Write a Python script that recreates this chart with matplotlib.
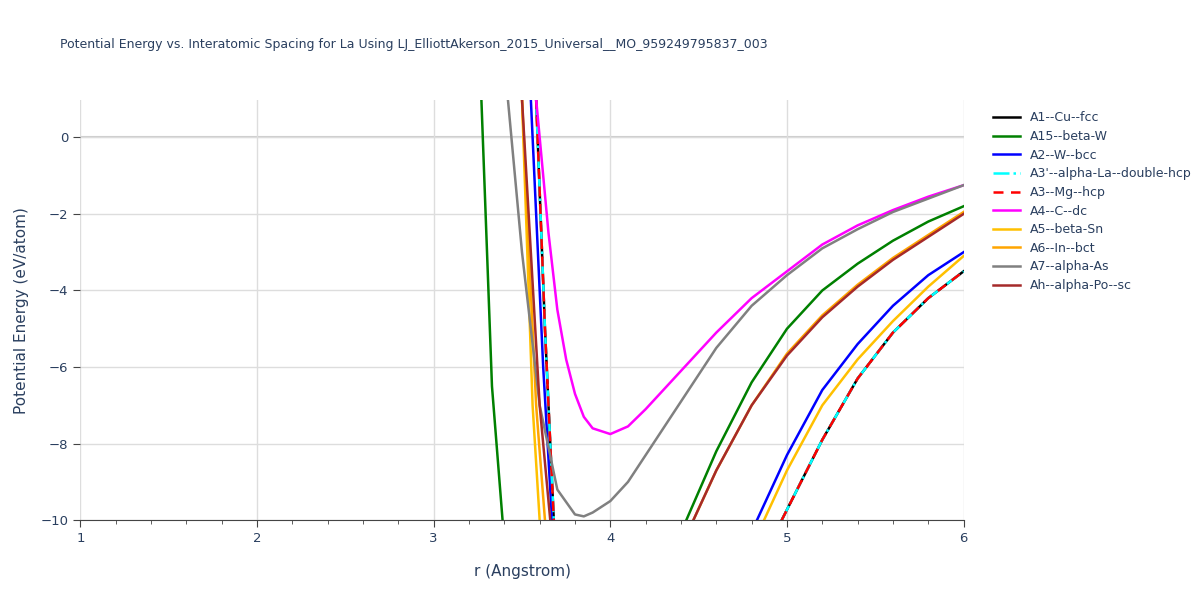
import numpy as np
import matplotlib.pyplot as plt

# left branch and right branch (r, E)
r_fcc = [3.58, 3.63, 3.68, np.nan, 4.97, 5.2, 5.4, 5.6, 5.8, 6.0]
e_fcc = [1.0, -5.0, -10.0, np.nan, -10.0, -7.9, -6.3, -5.1, -4.2, -3.5]

r_a15 = [3.27, 3.33, 3.39, np.nan, 4.43, 4.6, 4.8, 5.0, 5.2, 5.4, 5.6, 5.8, 6.0]
e_a15 = [1.0, -6.5, -10.0, np.nan, -10.0, -8.2, -6.4, -5.0, -4.0, -3.3, -2.7, -2.2, -1.8]

r_bcc = [3.55, 3.62, 3.67, np.nan, 4.83, 5.0, 5.2, 5.4, 5.6, 5.8, 6.0]
e_bcc = [1.0, -6.0, -10.0, np.nan, -10.0, -8.3, -6.6, -5.4, -4.4, -3.6, -3.0]

r_dc = [3.58, 3.65, 3.7, 3.75, 3.8, 3.85, 3.9, 4.0, 4.1, 4.2, 4.4, 4.6, 4.8, 5.0, 5.2, 5.4, 5.6, 5.8, 6.0]
e_dc = [1.0, -2.5, -4.5, -5.8, -6.7, -7.3, -7.6, -7.75, -7.55, -7.1, -6.1, -5.1, -4.2, -3.5, -2.8, -2.3, -1.9, -1.55, -1.25]

r_sn = [3.5, 3.56, 3.6, np.nan, 4.87, 5.0, 5.2, 5.4, 5.6, 5.8, 6.0]
e_sn = [1.0, -7.0, -10.0, np.nan, -10.0, -8.7, -7.0, -5.8, -4.8, -3.9, -3.1]

r_bct = [3.5, 3.58, 3.63, np.nan, 4.47, 4.6, 4.8, 5.0, 5.2, 5.4, 5.6, 5.8, 6.0]
e_bct = [1.0, -7.0, -10.0, np.nan, -10.0, -8.7, -7.0, -5.65, -4.65, -3.85, -3.15, -2.55, -1.95]

r_as = [3.42, 3.5, 3.6, 3.7, 3.8, 3.85, 3.9, 4.0, 4.1, 4.2, 4.4, 4.6, 4.8, 5.0, 5.2, 5.4, 5.6, 5.8, 6.0]
e_as = [1.0, -3.0, -7.0, -9.2, -9.85, -9.9, -9.8, -9.5, -9.0, -8.3, -6.9, -5.5, -4.4, -3.6, -2.9, -2.4, -1.95, -1.6, -1.25]

r_sc = [3.5, 3.6, 3.66, np.nan, 4.47, 4.6, 4.8, 5.0, 5.2, 5.4, 5.6, 5.8, 6.0]
e_sc = [1.0, -7.0, -10.0, np.nan, -10.0, -8.7, -7.0, -5.7, -4.7, -3.9, -3.2, -2.6, -2.0]

series = [
    ("A1--Cu--fcc", r_fcc, e_fcc, "black", "-"),
    ("A15--beta-W", r_a15, e_a15, "green", "-"),
    ("A2--W--bcc", r_bcc, e_bcc, "blue", "-"),
    ("A3'--alpha-La--double-hcp", r_fcc, e_fcc, "cyan", "-."),
    ("A3--Mg--hcp", r_fcc, e_fcc, "red", (0, (4, 3))),
    ("A4--C--dc", r_dc, e_dc, "magenta", "-"),
    ("A5--beta-Sn", r_sn, e_sn, "#FFC000", "-"),
    ("A6--In--bct", r_bct, e_bct, "orange", "-"),
    ("A7--alpha-As", r_as, e_as, "grey", "-"),
    ("Ah--alpha-Po--sc", r_sc, e_sc, "brown", "-"),
]

fig = plt.figure(figsize=(12, 6), dpi=100)
ax = fig.add_axes([0.067, 0.133, 0.736, 0.7])
for name, r, e, c, ls in series:
    ax.plot(r, e, color=c, linestyle=ls, linewidth=1.8, label=name)

ax.set_xlim(1, 6)
ax.set_ylim(-10, 0.97)
ax.set_xticks([1, 2, 3, 4, 5, 6])
ax.set_yticks([0, -2, -4, -6, -8, -10])
ax.xaxis.set_minor_locator(plt.MultipleLocator(0.2))
ax.tick_params(which="minor", length=3, color="#444", direction="out")
ax.tick_params(which="major", length=5, color="#444", labelcolor="#2a3f5f", labelsize=9.5)
ax.grid(True, color="#dddddd", linewidth=1)
ax.axhline(0, color="#cccccc", linewidth=1.5, zorder=0)
for s in ["top", "right", "left"]:
    ax.spines[s].set_visible(False)
ax.spines["bottom"].set_color("#444")
ax.set_xlabel("r (Angstrom)", color="#2a3f5f", fontsize=11, labelpad=14)
ax.set_ylabel("Potential Energy (eV/atom)", color="#2a3f5f", fontsize=11, labelpad=8)
fig.text(0.05, 0.92, "Potential Energy vs. Interatomic Spacing for La Using LJ_ElliottAkerson_2015_Universal__MO_959249795837_003",
         fontsize=9, color="#2a3f5f")
ax.legend(loc="upper left", bbox_to_anchor=(1.02, 1.0), frameon=False, fontsize=9,
          labelcolor="#2a3f5f", handlelength=2.2, labelspacing=0.45)
fig.savefig("out.png")
